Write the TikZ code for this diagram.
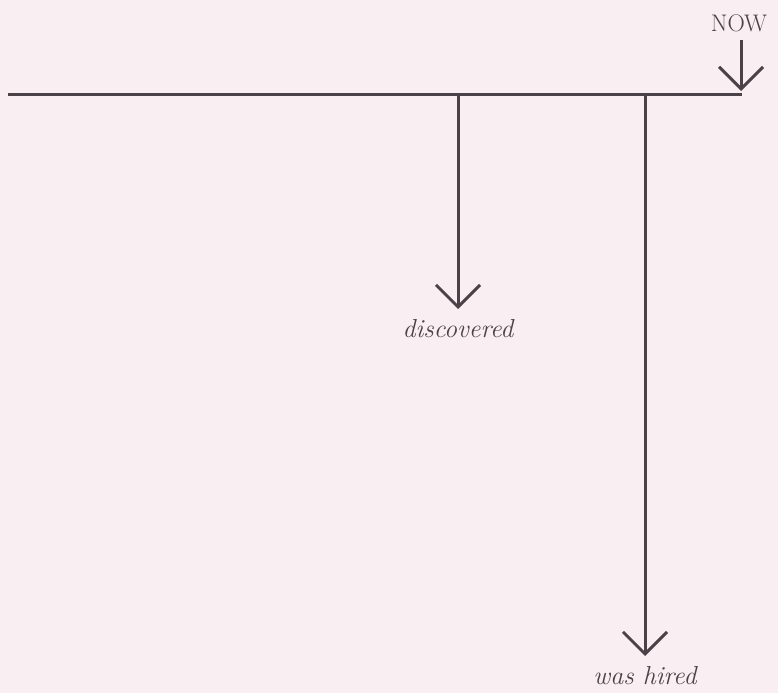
\documentclass[tikz,border=0pt]{standalone}
\usepackage{fontspec}
\usetikzlibrary{arrows.meta, positioning}
\definecolor{cink}{HTML}{4A4246}
\definecolor{cpaper}{HTML}{F9EFF3}

\begin{document}
\begin{tikzpicture}[
  x=1pt, y=-1pt,
  tline/.style={draw=cink, line width=3pt},
  evarrow/.style={draw=cink, line width=3pt, -{Straight Barb[length=22pt, width=44pt, line width=3pt]}},
  evlabel/.style={text=cink, inner xsep=1pt, inner ysep=10pt, anchor=north, font=\fontsize{26}{28}\selectfont\itshape},
  nowlabel/.style={text=cink, inner sep=1pt, font=\fontsize{24}{26}\selectfont}
]
\fill[cpaper] (0,0) rectangle (778,693);
\useasboundingbox (0,0) rectangle (778,693);

% time line
\coordinate (tstart) at (8,94);
\coordinate (tend) at (742,94);
\draw[tline] (tstart) -- (tend);

% now marker
\node[nowlabel] (now) at (739,23) {NOW};
\coordinate (nowpt) at (741,91);
\draw[evarrow] (741,40) -- (nowpt);

% events
\coordinate (disc) at (458,94);
\coordinate (hire) at (645,94);
\node[evlabel] (discovered) at (458,309) {discovered};
\node[evlabel] (hired) at (645,656) {was hired};
\draw[evarrow] (disc) -- (discovered.north);
\draw[evarrow] (hire) -- (hired.north);

\end{tikzpicture}
\end{document}
